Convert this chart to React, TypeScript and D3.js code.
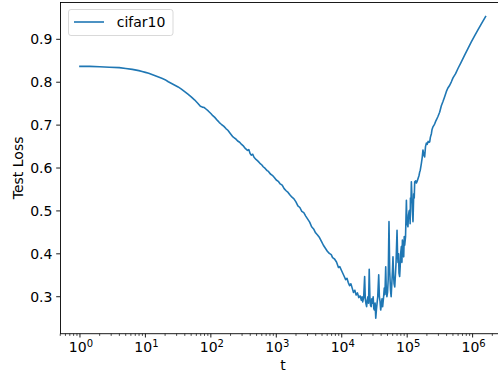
import React from "react";
import * as d3 from "d3";

// Test loss of a cifar10 run against step t, stored as log10(t) and loss, in three stretches.
const descentStep: number[] = [
  0, 0.15, 0.3, 0.45, 0.6, 0.7, 0.8, 0.9, 0.95, 1.0,
  1.05, 1.1, 1.15, 1.2, 1.25, 1.3, 1.35, 1.4, 1.45, 1.5,
  1.55, 1.6, 1.65, 1.7, 1.75, 1.8, 1.84, 1.87, 1.9, 1.93,
  1.96, 2.0, 2.03, 2.06, 2.1, 2.13, 2.16, 2.2, 2.23, 2.26,
  2.3, 2.33, 2.36, 2.38, 2.41, 2.44, 2.47, 2.5, 2.53, 2.56,
  2.58, 2.6, 2.62, 2.64, 2.66, 2.69, 2.72, 2.75, 2.78, 2.8,
  2.83, 2.86, 2.88, 2.91, 2.94, 2.97, 3.0, 3.03, 3.06, 3.09,
  3.12, 3.15, 3.18, 3.21, 3.24, 3.27, 3.3, 3.33, 3.36, 3.39,
  3.42, 3.45, 3.48, 3.51, 3.54, 3.57, 3.6, 3.63, 3.66, 3.69,
  3.72, 3.75, 3.78, 3.81, 3.84, 3.86, 3.89, 3.92, 3.95, 3.97,
  4.0, 4.03, 4.06, 4.08, 4.1, 4.12, 4.14, 4.16, 4.18, 4.2,
  4.22, 4.24, 4.26, 4.28,
];
const descentLoss: number[] = [
  0.837, 0.837, 0.836, 0.835, 0.834, 0.832, 0.83, 0.827, 0.825, 0.823,
  0.821, 0.818, 0.815, 0.812, 0.809, 0.806, 0.801, 0.797, 0.793, 0.789,
  0.784, 0.778, 0.772, 0.766, 0.759, 0.751, 0.744, 0.742, 0.741, 0.737,
  0.733, 0.727, 0.722, 0.718, 0.711, 0.706, 0.702, 0.697, 0.692, 0.688,
  0.68, 0.674, 0.67, 0.668, 0.663, 0.66, 0.655, 0.651, 0.645, 0.641,
  0.643, 0.634, 0.63, 0.632, 0.625, 0.62, 0.616, 0.611, 0.607, 0.603,
  0.599, 0.594, 0.592, 0.586, 0.583, 0.578, 0.572, 0.569, 0.563, 0.56,
  0.552, 0.547, 0.543, 0.537, 0.532, 0.528, 0.521, 0.512, 0.508, 0.499,
  0.496, 0.488, 0.481, 0.474, 0.463, 0.458, 0.449, 0.444, 0.438, 0.429,
  0.42, 0.413, 0.406, 0.401, 0.398, 0.391, 0.388, 0.381, 0.368, 0.37,
  0.36, 0.35, 0.34, 0.343, 0.333, 0.326, 0.33, 0.32, 0.31, 0.315,
  0.304, 0.309, 0.298, 0.302,
];

const noisyStep: number[] = [
  4.3, 4.31, 4.32, 4.335, 4.35, 4.36, 4.37, 4.38, 4.39, 4.4,
  4.41, 4.42, 4.43, 4.44, 4.45, 4.46, 4.47, 4.48, 4.49, 4.5,
  4.51, 4.52, 4.53, 4.54, 4.55, 4.565, 4.575, 4.585, 4.595, 4.605,
  4.615, 4.625, 4.64, 4.65, 4.66, 4.672, 4.68, 4.69, 4.7, 4.71,
  4.722, 4.733, 4.745, 4.755, 4.765, 4.775, 4.783, 4.792, 4.8, 4.81,
  4.82, 4.83, 4.845, 4.853, 4.86, 4.868, 4.875, 4.885, 4.893, 4.9,
  4.911, 4.92, 4.927, 4.937, 4.947, 4.955, 4.962, 4.975, 4.988, 4.995,
  5.0, 5.012, 5.02, 5.03, 5.038, 5.045, 5.05, 5.058, 5.064, 5.071,
  5.078, 5.089, 5.1, 5.108, 5.115,
];
const noisyLoss: number[] = [
  0.292, 0.3, 0.288, 0.298, 0.347, 0.295, 0.284, 0.277, 0.292, 0.3,
  0.285, 0.364, 0.3, 0.28, 0.277, 0.295, 0.285, 0.3, 0.272, 0.269,
  0.285, 0.25, 0.27, 0.285, 0.3, 0.351, 0.3, 0.29, 0.269, 0.28,
  0.295, 0.277, 0.3, 0.32, 0.305, 0.37, 0.32, 0.3, 0.31, 0.34,
  0.475, 0.36, 0.316, 0.3, 0.33, 0.36, 0.393, 0.35, 0.33, 0.323,
  0.35, 0.38, 0.455, 0.4, 0.38, 0.4, 0.355, 0.347, 0.37, 0.4,
  0.417, 0.38, 0.432, 0.41, 0.393, 0.44, 0.42, 0.44, 0.525, 0.48,
  0.47, 0.463, 0.49, 0.5, 0.502, 0.47, 0.53, 0.52, 0.568, 0.54,
  0.5, 0.475, 0.54, 0.53, 0.568,
];

const riseStep: number[] = [
  5.13, 5.14, 5.15, 5.165, 5.18, 5.19, 5.2, 5.217, 5.23, 5.241,
  5.255, 5.267, 5.28, 5.293, 5.305, 5.32, 5.335, 5.344, 5.355, 5.37,
  5.38, 5.394, 5.41, 5.42, 5.433, 5.446, 5.47, 5.496, 5.522, 5.547,
  5.57, 5.598, 5.62, 5.65, 5.675, 5.7, 5.74, 5.776, 5.82, 5.878,
  5.93, 5.98, 6.03, 6.081, 6.14, 6.198,
];
const riseLoss: number[] = [
  0.57, 0.565, 0.568, 0.575, 0.582, 0.59, 0.595, 0.611, 0.625, 0.642,
  0.63, 0.626, 0.65, 0.658, 0.655, 0.662, 0.66, 0.661, 0.672, 0.68,
  0.69, 0.696, 0.7, 0.703, 0.708, 0.712, 0.72, 0.73, 0.745, 0.755,
  0.765, 0.778, 0.786, 0.793, 0.801, 0.81, 0.82, 0.832, 0.845, 0.863,
  0.879, 0.894, 0.908, 0.922, 0.938, 0.953,
];

const seriesName = "cifar10";
const yTicks: number[] = [0.3, 0.4, 0.5, 0.6, 0.7, 0.8, 0.9];
const xDecades: number[] = [0, 1, 2, 3, 4, 5, 6];

const W = 498;
const H = 377;
const LEFT = 60;
const RIGHT = 506;
const TOP = 2;
const BOTTOM = 333.7;
const FONT = "'DejaVu Sans', sans-serif";
const BLUE = "#1f77b4";

type Pt = { t: number; loss: number };

export default function App() {
  const steps = [...descentStep, ...noisyStep, ...riseStep];
  const losses = [...descentLoss, ...noisyLoss, ...riseLoss];
  const data: Pt[] = steps.map((e, i) => ({ t: Math.pow(10, e), loss: losses[i] }));

  const x = d3.scaleLog().domain([Math.pow(10, -0.305), Math.pow(10, 6.51)]).range([LEFT, RIGHT]);
  const y = d3.scaleLinear().domain([0.2138, 0.987]).range([BOTTOM, TOP]);

  const line = d3
    .line<Pt>()
    .x((d) => x(d.t))
    .y((d) => y(d.loss));

  const [d0, d1] = x.domain();
  const minor: number[] = [];
  for (let e = -1; e <= 6; e++) {
    for (let m = 2; m <= 9; m++) {
      const v = m * Math.pow(10, e);
      if (v >= d0 && v <= d1) minor.push(v);
    }
  }

  return (
    <svg
      width={W}
      height={H}
      style={{ position: "absolute", left: 0, top: 0, background: "#fff" }}
      fontFamily={FONT}
    >
      <rect x={0} y={0} width={W} height={H} fill="#fff" />
      <defs>
        <clipPath id="plot-area">
          <rect x={LEFT} y={TOP} width={RIGHT - LEFT} height={BOTTOM - TOP} />
        </clipPath>
      </defs>

      <path
        d={line(data) ?? ""}
        fill="none"
        stroke={BLUE}
        strokeWidth={1.6}
        strokeLinejoin="round"
        strokeLinecap="square"
        clipPath="url(#plot-area)"
      />

      {/* spines */}
      <line x1={LEFT + 0.5} x2={LEFT + 0.5} y1={TOP} y2={BOTTOM} stroke="#000" strokeWidth={0.9} />
      <line x1={LEFT} x2={RIGHT} y1={BOTTOM} y2={BOTTOM} stroke="#000" strokeWidth={0.9} />
      <line x1={LEFT} x2={RIGHT} y1={TOP + 0.5} y2={TOP + 0.5} stroke="#000" strokeWidth={0.9} />
      <line x1={RIGHT} x2={RIGHT} y1={TOP} y2={BOTTOM} stroke="#000" strokeWidth={0.9} />

      {/* y axis */}
      {yTicks.map((v) => (
        <g key={v}>
          <line x1={LEFT - 3.8} x2={LEFT} y1={y(v)} y2={y(v)} stroke="#000" strokeWidth={0.9} />
          <text x={LEFT - 7.6} y={y(v) + 5} fontSize={14} textAnchor="end" fill="#000">
            {d3.format(".1f")(v)}
          </text>
        </g>
      ))}

      {/* x axis */}
      {minor.map((v) => (
        <line key={"m" + v} x1={x(v)} x2={x(v)} y1={BOTTOM} y2={BOTTOM + 2.2} stroke="#000" strokeWidth={0.7} />
      ))}
      {xDecades.map((e) => {
        const px = x(Math.pow(10, e));
        return (
          <g key={e}>
            <line x1={px} x2={px} y1={BOTTOM} y2={BOTTOM + 3.8} stroke="#000" strokeWidth={0.9} />
            <text x={px + 1} y={352.3} fontSize={14} textAnchor="middle" fill="#000">
              10
              <tspan fontSize={10} dy={-5.5}>
                {e}
              </tspan>
            </text>
          </g>
        );
      })}

      <text x={(LEFT + RIGHT) / 2} y={369.5} fontSize={14} textAnchor="middle" fill="#000">
        t
      </text>
      <text
        transform={`translate(23.3, ${(TOP + BOTTOM) / 2}) rotate(-90)`}
        fontSize={14}
        textAnchor="middle"
        fill="#000"
      >
        Test Loss
      </text>

      {/* legend */}
      <rect x={68.5} y={9.5} width={104.5} height={26} rx={2.5} fill="#fff" fillOpacity={0.8} stroke="#d5d5d5" strokeWidth={0.9} />
      <line x1={74} x2={104} y1={22} y2={22} stroke={BLUE} strokeWidth={1.6} />
      <text x={116.7} y={27.3} fontSize={14} fill="#000">
        {seriesName}
      </text>
    </svg>
  );
}
